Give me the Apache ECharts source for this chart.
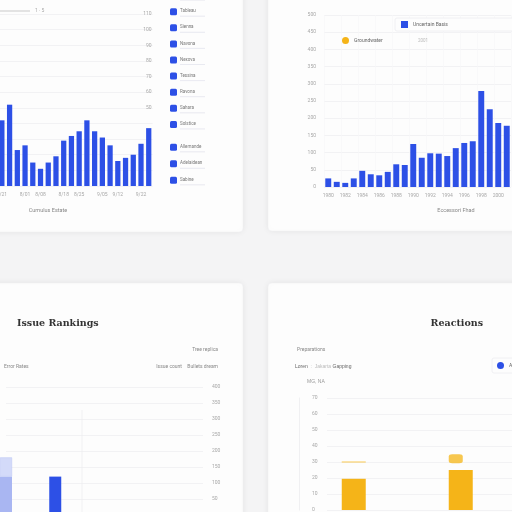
<!DOCTYPE html>
<html><head><meta charset="utf-8">
<script src="https://cdn.jsdelivr.net/npm/echarts@6/dist/echarts.min.js"></script>
<style>html,body{margin:0;padding:0;background:#f4f4f5;}#c{width:512px;height:512px;}</style>
</head><body><div id="c"></div>
<script>
// ---------- data ----------
// top-left panel
const tlCategories = ['7/21','7/24','7/28','8/01','8/04','8/08','8/11','8/15','8/18','8/22','8/25','8/29','9/01','9/05','9/08','9/12','9/15','9/19','9/22','9/26'];
const tlValues = [42,52,23,26,15,11,15,19,29,32,35,42,35,31,26,16,18,20,27,37];
const tlSideListA = ['Tabletop','Tableau','Sienna','Navona','Nexova','Tessina','Ravona','Sahara','Solstice'];
const tlSideListB = ['Allemande','Adelaidean','Sabine'];
// top-right panel
const trCategories = ['1980','1981','1982','1983','1984','1985','1986','1987','1988','1989','1990','1991','1992','1993','1994','1995','1996','1997','1998','1999','2000','2001'];
const trValues = [25,15,12,25,47,37,34,44,66,64,125,85,98,97,90,113,128,133,279,226,186,178];
// bottom-left panel
const blCategories = ['A','B','C','D','E'];
const blIssueCount = [120,120,'-','-','-'];
const blBulletsDream = [60,'-','-','-','-'];
// bottom-right panel
const brCategories = ['Q1','Q2','Q3','Q4'];
const brActual = [19.5,'-',25,'-'];
const brTarget = [30,'-','-','-'];
const brForecast = ['-','-',32,'-'];

const BLUE = '#2d50e6';
const ORANGE = '#f5b418';
const tick = {fontSize:5, color:'#a8a8a8', fontFamily:'Roboto'};
const split = {show:true, lineStyle:{color:'#efeff1', width:0.8}};

// ---------- decoration ----------
const graphics = [];
function card(x,y,w,h){
  graphics.push({type:'rect', z:-10, shape:{x:x,y:y,width:w,height:h,r:4},
    style:{fill:'#fdfdfd', shadowBlur:6, shadowColor:'rgba(0,0,0,0.07)', stroke:'#f0f0f2', lineWidth:0.5}});
}
card(-10,-10,253,242); card(268,-10,254,241); card(-10,283,253,239); card(268,283,254,239);
function txt(x,y,t,opt){
  graphics.push({type:'text', z:10, x:x, y:y, style:Object.assign({text:t, fontSize:5, fill:'#888', fontFamily:'Roboto', textAlign:'left', textVerticalAlign:'middle'}, opt||{})});
}
function sideItem(name,i,y){
  graphics.push({type:'rect', z:10, shape:{x:170,y:y-3.5,width:7,height:7,r:1.5}, style:{fill:BLUE}});
  graphics.push({type:'line', z:10, shape:{x1:180,y1:y+4.5,x2:205,y2:y+4.5}, style:{stroke:'#e3e5ee', lineWidth:0.8}});
  txt(180, y-0.5, name, {fill:'#777', fontSize:4.5});
}
tlSideListA.forEach((n,i)=>sideItem(n,i,-4.4+16.1*i));
tlSideListB.forEach((n,i)=>sideItem(n,i,147.3+16.5*i));
graphics.push({type:'line', z:10, shape:{x1:0,y1:11,x2:30,y2:11}, style:{stroke:'#bbb', lineWidth:0.8}});
txt(35, 11, '1 · 5', {fill:'#aaa'});
txt(48, 211, 'Cumulus Estate', {textAlign:'center', fill:'#888', fontSize:5.5});
txt(456, 211, 'Eccessori Fhad', {textAlign:'center', fill:'#888', fontSize:5.5});
txt(418, 41, '2001', {fill:'#bbb', fontSize:4.5});
// bottom-left texts
txt(17, 324, 'Issue Rankings', {fill:'#333', fontSize:9.5, fontWeight:'bold', fontFamily:'DejaVu Serif'});
txt(218, 350, 'Tree replica', {textAlign:'right', fill:'#888'});
txt(4, 367, 'Error Rates', {fill:'#888'});
txt(182, 367, 'Issue count', {textAlign:'right', fill:'#888'});
txt(218, 367, 'Bullets dream', {textAlign:'right', fill:'#888'});
graphics.push({type:'line', z:1, shape:{x1:82,y1:410,x2:82,y2:512}, style:{stroke:'#eeeef0', lineWidth:0.8}});
// bottom-right texts
txt(483, 324, 'Reactions', {textAlign:'right', fill:'#333', fontSize:9.5, fontWeight:'bold', fontFamily:'DejaVu Serif'});
txt(297, 350, 'Preparations', {fill:'#888'});
graphics.push({type:'text', z:10, x:295, y:367, style:{text:'{a|Loren}{b|  :  Jakarta }{a|Gapping}', textVerticalAlign:'middle', fontFamily:'Roboto',
  rich:{a:{fontSize:5, fill:'#666'}, b:{fontSize:5, fill:'#bbb'}}}});

const option = {
  backgroundColor:'#f4f4f5',
  animation:false,
  graphic:{elements:graphics},
  legend:[
    {data:['Uncertain Basis'], left:395, top:18, orient:'horizontal', icon:'rect', itemWidth:7, itemHeight:7,
     padding:[3,70,3,6], borderColor:'#ececf0', borderWidth:0.8, borderRadius:2, backgroundColor:'#fdfdfd',
     textStyle:{fontSize:5, color:'#666', fontFamily:'Roboto'}},
    {data:['Groundwater'], left:342, top:37, icon:'circle', itemWidth:7, itemHeight:7, padding:0,
     textStyle:{fontSize:5, color:'#666', fontFamily:'Roboto'}},
    {data:['Allocations'], left:492, top:358, icon:'circle', itemWidth:7, itemHeight:7,
     padding:[4,30,4,5], borderColor:'#ececf0', borderWidth:0.8, borderRadius:2, backgroundColor:'#fdfdfd',
     textStyle:{fontSize:5, color:'#666', fontFamily:'Roboto'}}
  ],
  grid:[
    {left:-2, width:154.6, top:14, height:172, outerBoundsMode:'none', containLabel:false},
    {left:324, width:187, top:15, height:172, outerBoundsMode:'none', containLabel:false},
    {left:6, width:197, top:387, height:128, outerBoundsMode:'none', containLabel:false},
    {left:327, width:214, top:398, height:112, outerBoundsMode:'none', containLabel:false}
  ],
  xAxis:[
    {type:'category', gridIndex:0, data:tlCategories, axisLine:{show:false}, axisTick:{show:false},
     axisLabel:Object.assign({margin:6, interval:(i)=> i%5===0 || i%5===3}, tick)},
    {type:'category', gridIndex:1, data:trCategories, axisLine:{show:false}, axisTick:{show:false},
     splitLine:{show:true, lineStyle:{color:'#f6f6f8', width:0.6}},
     axisLabel:Object.assign({margin:6, interval:1}, tick)},
    {type:'category', gridIndex:2, data:blCategories, boundaryGap:false, axisLine:{show:false}, axisTick:{show:false}, axisLabel:{show:false}},
    {type:'category', gridIndex:3, data:brCategories, axisLine:{show:false}, axisTick:{show:false}, axisLabel:{show:false}}
  ],
  yAxis:[
    {type:'value', gridIndex:0, position:'right', min:0, max:110, interval:10, splitLine:split,
     axisLine:{show:false}, axisTick:{show:false},
     axisLabel:Object.assign({inside:true, margin:1, formatter:(v)=> v>=50 ? v : ''}, tick)},
    {type:'value', gridIndex:1, min:0, max:500, interval:50, splitLine:split,
     axisLine:{show:false}, axisTick:{show:false}, axisLabel:Object.assign({margin:8}, tick)},
    {type:'value', gridIndex:2, position:'right', min:0, max:400, interval:50, splitLine:split,
     axisLine:{show:false}, axisTick:{show:false}, axisLabel:Object.assign({margin:9}, tick)},
    {type:'value', gridIndex:3, min:0, max:70, interval:10, offset:28, splitLine:split,
     name:'MG, NA', nameLocation:'end', nameGap:14, nameTextStyle:{fontSize:5, color:'#999', align:'left', padding:[0,0,0,8]},
     axisLine:{show:true, lineStyle:{color:'#ececef', width:0.8}}, axisTick:{show:false},
     axisLabel:Object.assign({inside:true, margin:13}, tick)}
  ],
  series:[
    {name:'Cumulus', type:'bar', xAxisIndex:0, yAxisIndex:0, data:tlValues, barCategoryGap:'32%', itemStyle:{color:BLUE}},
    {name:'Uncertain Basis', type:'bar', xAxisIndex:1, yAxisIndex:1, data:trValues, barCategoryGap:'30%', itemStyle:{color:BLUE}},
    {name:'Groundwater', type:'line', xAxisIndex:1, yAxisIndex:1, data:[], itemStyle:{color:ORANGE}},
    {name:'Issue count', type:'bar', xAxisIndex:2, yAxisIndex:2, stack:'bl', barWidth:12,
     data:blIssueCount.map((v,i)=> ({value:v, itemStyle:{color: i===0 ? '#a9b6f2' : BLUE}}))},
    {name:'Bullets dream', type:'bar', xAxisIndex:2, yAxisIndex:2, stack:'bl', barWidth:12, data:blBulletsDream,
     itemStyle:{color:'#d3daf9', borderColor:'#b9c4f4', borderWidth:0.5}},
    {name:'Actual', type:'bar', xAxisIndex:3, yAxisIndex:3, data:brActual, barWidth:24, itemStyle:{color:ORANGE}},
    {name:'Target', type:'scatter', xAxisIndex:3, yAxisIndex:3, data:brTarget, symbol:'rect', symbolSize:[24,1.2], itemStyle:{color:'#f7c54a'}},
    {name:'Forecast', type:'scatter', xAxisIndex:3, yAxisIndex:3, data:brForecast, symbol:'roundRect', symbolSize:[14,9], symbolOffset:[-5,0], itemStyle:{color:'#f6bd30', opacity:0.85}},
    {name:'Allocations', type:'line', xAxisIndex:3, yAxisIndex:3, data:[], itemStyle:{color:BLUE}}
  ]
};
const chart = echarts.init(document.getElementById('c'), null, {renderer:'canvas'});
chart.setOption(option);
</script>
</body></html>
